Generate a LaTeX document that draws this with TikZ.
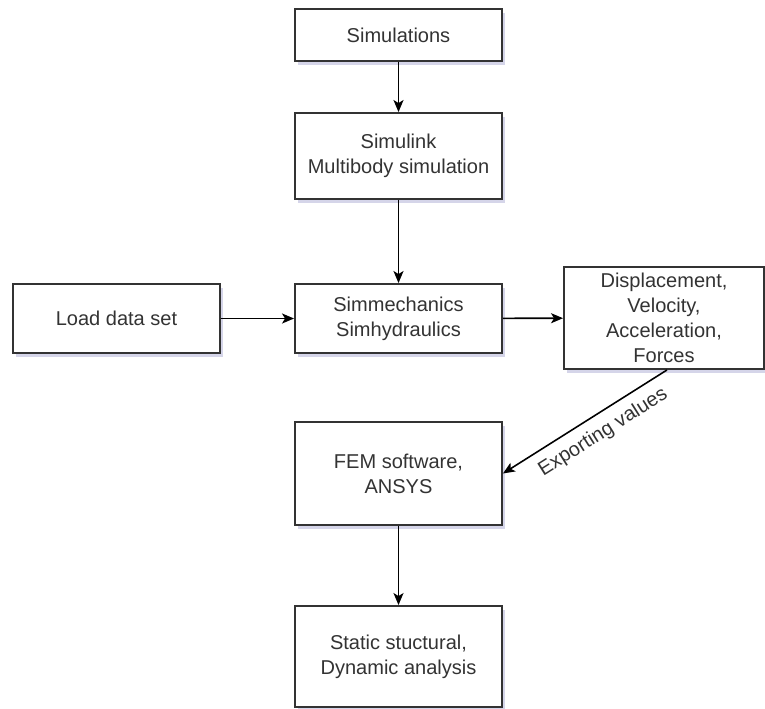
\documentclass[tikz,border=0pt]{standalone}
\usepackage{fontspec}
\setmainfont{Liberation Sans}
\usepackage{xcolor}
\usetikzlibrary{shadows,positioning,arrows.meta}

\definecolor{boxline}{HTML}{333333}
\definecolor{boxtext}{HTML}{333333}

\tikzset{
  block/.style={draw=boxline,line width=1.1pt,fill=white,align=center,
    text=boxtext,minimum width=4.14cm,inner sep=0pt,
    drop shadow={shadow xshift=0.06cm,shadow yshift=-0.08cm,fill=blue!30!gray,opacity=0.25}},
  flow/.style={->,line width=0.9pt,black}
}

\begin{document}
\begin{tikzpicture}[x=0.02cm,y=-0.02cm,font=\fontsize{11.4}{14.2}\selectfont,
  >={Stealth[length=0.24cm,width=0.2cm,inset=0.06cm]}]

\useasboundingbox (0,0) rectangle (765,708);

% --- main column ---
\node[block,minimum height=1.04cm] (sims) at (398.5,35) {Simulations};
\node[block,minimum height=1.72cm] (simulink) at (398.5,156) {Simulink\\Multibody simulation};
\node[block,minimum height=1.38cm] (simmech) at (398.5,318.5) {Simmechanics\\Simhydraulics};
\node[block,minimum height=2.06cm] (fem) at (398.5,473.5) {FEM software,\\ANSYS};
\node[block,minimum height=2.02cm] (static) at (398.5,656.5) {Static stuctural,\\Dynamic analysis};

% --- side boxes ---
\node[block,minimum height=1.38cm] (load) at (116.5,318.5) {Load data set};
\node[block,minimum width=4cm,minimum height=2.04cm] (motion) at (664,318) {Displacement,\\Velocity,\\Acceleration,\\Forces};

% Arrows
\draw[flow] (sims) -- (simulink);
\draw[flow] (simulink) -- (simmech);
\draw[flow] (load) -- (simmech);
\draw[flow] (simmech) -- (motion);
\draw[flow] ([xshift=0.06cm]motion.south) -- (fem.east)
  node[pos=0.45,sloped,below,inner sep=5pt,text=boxtext] {Exporting values};
\draw[flow] (fem) -- (static);

\end{tikzpicture}
\end{document}
